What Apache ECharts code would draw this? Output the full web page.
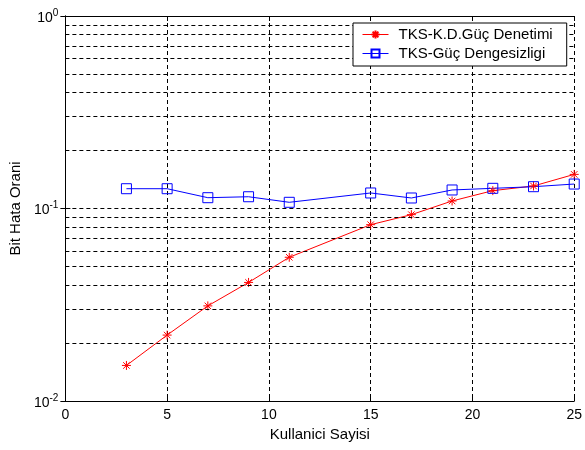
<!DOCTYPE html>
<html>
<head>
<meta charset="utf-8">
<script src="https://cdn.jsdelivr.net/npm/echarts@6/dist/echarts.min.js"></script>
<style>html,body{margin:0;padding:0;background:#fff;}#c{width:585px;height:450px;}</style>
</head>
<body>
<div id="c"></div>
<script>
var users = [3, 5, 7, 9, 11, 15, 17, 19, 21, 23, 25];
var kdPower = [0.0153, 0.0220, 0.0312, 0.0413, 0.0558, 0.0824, 0.0929, 0.1094, 0.1238, 0.1309, 0.1504];
var imbalance = [0.1267, 0.1267, 0.1138, 0.1151, 0.1077, 0.1204, 0.1134, 0.1248, 0.1273, 0.1298, 0.1340];
var seriesNames = ['TKS-K.D.Güç Denetimi', 'TKS-Güç Dengesizligi'];
var minorGrid = [0.02, 0.03, 0.04, 0.05, 0.06, 0.07, 0.08, 0.09, 0.2, 0.3, 0.4, 0.5, 0.6, 0.7, 0.8, 0.9];
var xTicks = [0, 5, 10, 15, 20, 25];
var yMajor = [0.01, 0.1, 1];

function pairs(xs, ys) { return xs.map(function (x, i) { return [x, ys[i]]; }); }
var FONT = 'Liberation Sans, Arial, sans-serif';
var star = 'path://M0,-5L0,5M-5,0L5,0M-3.6,-3.6L3.6,3.6M-3.6,3.6L3.6,-3.6';
var dash = [4, 3];

var chart = echarts.init(document.getElementById('c'));
chart.setOption({
  animation: false,
  backgroundColor: '#fff',
  grid: { left: 65, top: 16, width: 511, height: 385, containLabel: false },
  legend: {
    data: seriesNames,
    orient: 'vertical',
    left: 353, top: 23,
    z: 50, zlevel: 1,
    padding: [4, 14, 5, 9],
    itemWidth: 26, itemHeight: 10, itemGap: 4,
    lineStyle: { width: 1 },
    backgroundColor: '#fff',
    borderColor: '#000', borderWidth: 1, borderRadius: 0,
    textStyle: { fontFamily: FONT, fontSize: 15, color: '#000', padding: [0, 0, 0, 5], lineHeight: 14 }
  },
  xAxis: [{
    type: 'value', min: 0, max: 25, interval: 5,
    name: 'Kullanici Sayisi', nameLocation: 'middle', nameGap: 25,
    nameTextStyle: { fontFamily: FONT, fontSize: 15, color: '#000' },
    axisLine: { lineStyle: { color: '#000', width: 1 } },
    axisTick: { inside: true, length: 5, lineStyle: { color: '#000' } },
    axisLabel: { fontFamily: FONT, fontSize: 14, color: '#000', margin: 7,
      formatter: function (v) { return xTicks.indexOf(v) >= 0 ? String(v) : ''; } },
    splitLine: { show: true, lineStyle: { color: '#000', type: dash, width: 1 } }
  }, {
    type: 'value', min: 0, max: 25, interval: 5, position: 'top',
    axisLine: { show: true, lineStyle: { color: '#000', width: 1 } },
    axisTick: { inside: true, length: 5, lineStyle: { color: '#000' } },
    axisLabel: { show: false }, splitLine: { show: false }
  }],
  yAxis: [{
    type: 'log', logBase: 10, min: 0.01, max: 1,
    name: 'Bit Hata Orani', nameLocation: 'middle', nameGap: 39, nameRotate: 90,
    nameTextStyle: { fontFamily: FONT, fontSize: 15, color: '#000' },
    axisLine: { show: true, lineStyle: { color: '#000', width: 1 } },
    axisTick: { inside: true, length: 5, lineStyle: { color: '#000' } },
    axisLabel: {
      margin: 7, fontFamily: FONT, color: '#000',
      formatter: function (v) {
        var e = Math.round(Math.log10(v));
        return '{b|10}{s|' + e + '}';
      },
      rich: {
        b: { fontFamily: FONT, fontSize: 14, color: '#000', padding: [4, 0, 0, 0] },
        s: { fontFamily: FONT, fontSize: 10, color: '#000', padding: [0, 0, 6, 0] }
      }
    },
    splitLine: { show: true, lineStyle: { color: '#000', type: dash, width: 1 } }
  }, {
    type: 'log', logBase: 10, min: 0.01, max: 1, position: 'right',
    axisLine: { show: true, lineStyle: { color: '#000', width: 1 } },
    axisTick: { inside: true, length: 5, lineStyle: { color: '#000' } },
    axisLabel: { show: false }, splitLine: { show: false }
  }],
  series: [{
    name: 'minor-grid', type: 'line', data: [], z: 1, silent: true,
    markLine: {
      silent: true, symbol: 'none', animation: false,
      label: { show: false },
      lineStyle: { color: '#000', type: dash, width: 1 },
      data: minorGrid.map(function (v) { return { yAxis: v }; })
    }
  }, {
    name: seriesNames[0], type: 'line', data: pairs(users, kdPower), z: 3,
    symbol: star, symbolSize: 9,
    lineStyle: { color: '#ff0000', width: 1 },
    itemStyle: { color: 'rgba(0,0,0,0)', borderColor: '#ff0000', borderWidth: 1 }
  }, {
    name: seriesNames[1], type: 'line', data: pairs(users, imbalance), z: 3,
    symbol: 'rect', symbolSize: 10,
    lineStyle: { color: '#0000ff', width: 1 },
    itemStyle: { color: 'rgba(0,0,0,0)', borderColor: '#0000ff', borderWidth: 1 }
  }]
});
</script>
</body>
</html>
